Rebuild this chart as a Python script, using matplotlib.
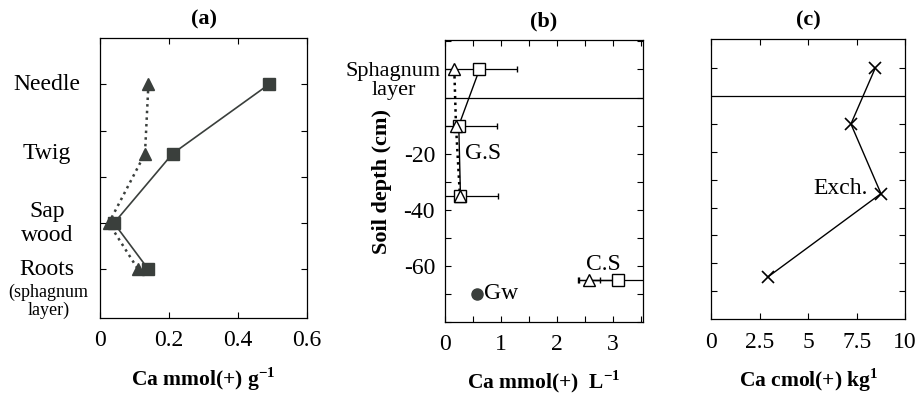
# Ca distribution: tree organs, soil solution, exchangeable Ca
import numpy as np
import matplotlib.pyplot as plt
from matplotlib.ticker import MultipleLocator

plt.rcParams['font.family'] = ['Liberation Serif', 'DejaVu Serif']
plt.rcParams['mathtext.fontset'] = 'custom'
plt.rcParams['mathtext.rm'] = 'Liberation Serif'
plt.rcParams['mathtext.bf'] = 'Liberation Serif:bold'
plt.rcParams['axes.unicode_minus'] = False

# (a) tree organs
organs = ["Needle", "Twig", "Sap\nwood", "Roots"]
organ_pos = [5, 3.5, 2, 1]
ca_square_a = [0.49, 0.21, 0.04, 0.14]
ca_triangle_a = [0.14, 0.13, 0.025, 0.11]

# (b) soil solution
depth_gs = [10, -10, -35]
ca_gs_square = [0.62, 0.25, 0.28]
ca_gs_square_err = [0.68, 0.68, 0.68]
ca_gs_triangle = [0.17, 0.2, 0.27]
depth_cs = [-65]
ca_cs_square = [3.1]
ca_cs_square_err = [0.7]
ca_cs_triangle = [2.58]
ca_cs_triangle_err = [0.2]
depth_gw = [-70]
ca_gw = [0.57]

# (c) exchangeable
depth_exch = [10, -10, -35, -65]
ca_exch = [8.45, 7.2, 8.75, 2.9]

dark = "#3a3f3c"
fig = plt.figure(figsize=(9.19, 4), dpi=100)

def style(ax):
    ax.tick_params(direction="in", top=True, right=True, length=4, labelsize=17, width=0.8)
    ax.tick_params(axis="x", pad=9)
    ax.tick_params(axis="y", pad=7)
    ax.tick_params(which="minor", direction="in", top=True, right=True, length=4, width=0.8)
    for s in ax.spines.values():
        s.set_linewidth(0.9)

# ---- (a)
ax1 = fig.add_axes([0.109, 0.205, 0.225, 0.70])
ax1.plot(ca_triangle_a, organ_pos, ls=":", lw=1.8, color=dark, marker="^", ms=9)
ax1.plot(ca_square_a, organ_pos, ls="-", lw=1.2, color=dark, marker="s", ms=8)
ax1.set_xlim(0, 0.6)
ax1.set_ylim(-0.05, 6)
ax1.set_xticks([0, 0.2, 0.4, 0.6])
ax1.set_xticklabels(["0", "0.2", "0.4", "0.6"])
ax1.set_yticks([1, 2, 3, 4, 5])
ax1.set_yticklabels([])
style(ax1)
for lab, y in zip(organs, organ_pos):
    ax1.text(-0.155, y, lab, ha="center", va="center", fontsize=17, linespacing=1.2)
ax1.text(-0.15, 0.3, "(sphagnum\nlayer)", ha="center", va="center", fontsize=13, linespacing=1.05)
ax1.set_title("(a)", fontsize=16, fontweight="bold", pad=10)
ax1.set_xlabel(r"Ca mmol(+) g$^{\mathbf{-1}}$", fontsize=15.5, fontweight="bold", labelpad=10)

# ---- (b)
ax2 = fig.add_axes([0.484, 0.195, 0.216, 0.705])
ax2.axhline(0, color="black", lw=0.9)
ax2.errorbar(ca_gs_square, depth_gs, xerr=ca_gs_square_err, fmt="none", ecolor="black",
             elinewidth=0.9, capsize=2)
ax2.plot(ca_gs_triangle, depth_gs, ls=":", lw=1.8, color="black")
ax2.plot(ca_gs_square, depth_gs, ls="-", lw=1.0, color="black", marker="s", ms=8,
         mfc="white", mec="black")
ax2.plot(ca_gs_triangle, depth_gs, ls="none", marker="^", ms=9, mfc="white", mec="black")
ax2.errorbar(ca_cs_square, depth_cs, xerr=ca_cs_square_err, fmt="none", ecolor="black",
             elinewidth=0.9, capsize=2)
ax2.errorbar(ca_cs_triangle, depth_cs, xerr=ca_cs_triangle_err, fmt="none", ecolor="black",
             elinewidth=0.9, capsize=2)
ax2.plot(ca_cs_triangle + ca_cs_square, depth_cs * 2, ls="-", lw=1.0, color="black")
ax2.plot(ca_cs_square, depth_cs, ls="none", marker="s", ms=8, mfc="white", mec="black")
ax2.plot(ca_cs_triangle, depth_cs, ls="none", marker="^", ms=9, mfc="white", mec="black")
ax2.plot(ca_gw, depth_gw, ls="none", marker="o", ms=8, color=dark)
ax2.text(0.71, -70, "Gw", fontsize=17, va="center")
ax2.text(0.36, -20, "G.S", fontsize=17, va="center")
ax2.text(2.52, -59.5, "C.S", fontsize=17, va="center")
ax2.text(-0.07, 6, "Sphagnum\nlayer", fontsize=16, ha="right", va="center",
         multialignment="center", linespacing=1.0)
ax2.set_xlim(0, 3.55)
ax2.set_ylim(-80, 20.5)
ax2.xaxis.set_major_locator(MultipleLocator(1))
ax2.xaxis.set_minor_locator(MultipleLocator(0.5))
ax2.set_yticks([-20, -40, -60])
ax2.yaxis.set_minor_locator(MultipleLocator(10))
style(ax2)
ax2.set_title("(b)", fontsize=16, fontweight="bold", pad=10)
ax2.set_xlabel(r"Ca mmol(+)  L$^{\mathbf{-1}}$", fontsize=15.5, fontweight="bold", labelpad=9)
ax2.set_ylabel("Soil depth (cm)", fontsize=16, fontweight="bold", labelpad=8)

# ---- (c)
ax3 = fig.add_axes([0.774, 0.2025, 0.211, 0.70])
ax3.axhline(0, color="black", lw=0.9)
ax3.plot(ca_exch, depth_exch, ls="-", lw=1.0, color="black", marker="x", ms=9, mew=1.2)
ax3.text(8.05, -33, "Exch.", fontsize=17, ha="right", va="center")
ax3.set_xlim(0, 10)
ax3.set_ylim(-80, 20.5)
ax3.set_xticks([0, 2.5, 5, 7.5, 10])
ax3.set_xticklabels(["0", "2.5", "5", "7.5", "10"])
ax3.set_yticks([10, -10, -20, -30, -40, -50, -60, -70])
ax3.set_yticklabels([])
style(ax3)
ax3.set_title("(c)", fontsize=16, fontweight="bold", pad=10)
ax3.set_xlabel(r"Ca cmol(+) kg$^{\mathbf{1}}$", fontsize=15.5, fontweight="bold", labelpad=10)

plt.savefig("out.png", dpi=100)
